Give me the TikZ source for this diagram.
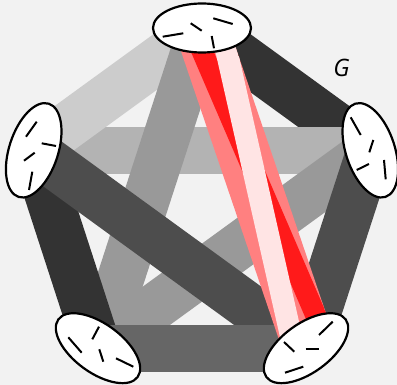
\documentclass[tikz,border=0pt]{standalone}
\usepackage{fontspec}
\newfontfamily\gfont{Open Sans}
\usetikzlibrary{shapes.geometric}
\definecolor{bg}{HTML}{F2F2F2}
\definecolor{gA}{HTML}{333333}
\definecolor{gB}{HTML}{4D4D4D}
\definecolor{gC}{HTML}{666666}
\definecolor{gD}{HTML}{999999}
\definecolor{gE}{HTML}{B3B3B3}
\definecolor{gF}{HTML}{CCCCCC}
\definecolor{lred}{HTML}{FF8080}
\definecolor{bred}{HTML}{FF1A1A}
\definecolor{pinkc}{HTML}{FFE4E4}
\begin{document}
\begin{tikzpicture}[x=1pt,y=-1pt,
  band/.style={line width=47pt},
  vert/.style={ellipse, draw=black, fill=white, line width=2.2pt,
    minimum width=98pt, minimum height=49pt, inner sep=0pt},
  tick/.style={line width=2pt}]
\fill[bg] (0,0) rectangle (397,385);
\useasboundingbox (0,0) rectangle (397,385);
\coordinate (T) at (202,28);
\coordinate (L) at (33.7,150.3);
\coordinate (R) at (370.3,150.3);
\coordinate (BL) at (98,348.2);
\coordinate (BR) at (306,348.2);
% bands, bottom to top
\draw[band, gA] (T) -- (R);
\draw[band, gE] (L) -- (R);
\draw[band, gF] (T) -- (L);
\draw[band, gD] (T) -- (BL);
\draw[band, gD] (R) -- (BL);
\draw[band, gA] (L) -- (BL);
\draw[band, gB] (L) -- (BR);
\draw[band, gB] (R) -- (BR);
\draw[band, gC] (BL) -- (BR);
% red multi band
\coordinate (rT) at (201.2,28.3);
\coordinate (rB) at (309.5,347.1);
\draw[line width=53pt, lred] (rT) -- (rB);
\begin{scope}
\clip (176,36.5) -- (226.4,20.1) -- (334.7,338.9) -- (284.3,355.3) -- cycle;
\coordinate (sT) at (193.3,30.8);
\coordinate (sB) at (327,341.4);
\coordinate (pT) at (220,22.2);
\coordinate (pB) at (294.6,351.9);
\draw[line width=21pt, bred] (sT) -- (sB);
\draw[line width=22pt, pinkc] (pT) -- (pB);
\end{scope}
% vertices
\node[vert] (vT) at (T) {};
\node[vert, rotate=72] (vL) at (L) {};
\node[vert, rotate=-72] (vR) at (R) {};
\node[vert, rotate=-36] (vBL) at (BL) {};
\node[vert, rotate=36] (vBR) at (BR) {};
% ticks
\draw[tick] (162.7,36.7) -- (183.3,33.3);
\draw[tick] (190.7,23.3) -- (201.7,30.7);
\draw[tick] (213.3,18.3) -- (232.7,24);
\draw[tick] (211.7,36) -- (214,48.3);
\draw[tick] (26,136.7) -- (36.7,121.7);
\draw[tick] (41.7,143.3) -- (56,146);
\draw[tick] (24,160.7) -- (34.7,152.7);
\draw[tick] (29,190) -- (32.3,171.7);
\draw[tick] (350.7,117.3) -- (360.7,135);
\draw[tick] (373.3,140) -- (369.3,152.3);
\draw[tick] (356.7,170) -- (369,164);
\draw[tick] (384,160) -- (385.7,179.3);
\draw[tick] (68.3,337.3) -- (81.7,352.7);
\draw[tick] (92.3,339.3) -- (99,326.7);
\draw[tick] (99.3,349.3) -- (103.3,361.7);
\draw[tick] (116,358.3) -- (133.3,366.7);
\draw[tick] (284,342) -- (294.3,351.7);
\draw[tick] (305.7,349) -- (319,349);
\draw[tick] (319,335) -- (332.7,321.7);
\draw[tick] (285,372.7) -- (303.3,366.7);
\node[font=\gfont\itshape\fontsize{24}{24}\selectfont, inner sep=0pt] (lab) at (341.5,67.5) {G};
\end{tikzpicture}
\end{document}
